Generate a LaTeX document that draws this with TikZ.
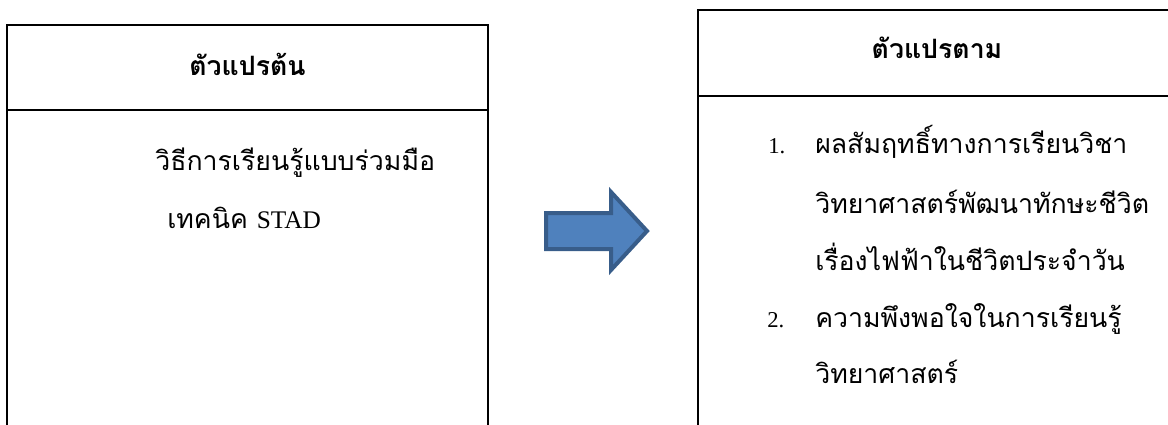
\documentclass[tikz,border=0pt]{standalone}
\usepackage{fontspec}
\setmainfont{Liberation Serif}
\newfontfamily\thaifont[Script=Thai]{Loma}
\usetikzlibrary{calc}

\definecolor{arrowfill}{HTML}{4F81BD}
\definecolor{arrowline}{HTML}{385D8A}

\begin{document}
\begin{tikzpicture}[x=0.75pt, y=-0.75pt,
            frame/.style={line width=1.2pt, black},
            headtext/.style={anchor=base, inner sep=0pt, font=\thaifont\bfseries\fontsize{20}{24}\selectfont},
            bodytext/.style={anchor=base west, inner sep=0pt, font=\thaifont\fontsize{20}{24}\selectfont},
            numtext/.style={anchor=base west, inner sep=0pt, font=\fontsize{17}{20}\selectfont},
            blockarrow/.style={fill=arrowfill, draw=arrowline, line width=3pt, line join=miter}
        ]
            \useasboundingbox (0,0) rectangle (1168,425);

            % left box: independent variable
            \coordinate (ivTL) at (7,25);
            \coordinate (ivTR) at (488,25);
            \draw[frame] (7,425) -- (ivTL) -- (ivTR) -- (488,425);
            \draw[frame] (7,110) -- (488,110);

            \node[headtext] (ivhead) at (247.5,75) {ตัวแปรต้น};
            \node[bodytext] (ivline1) at (155,170) {วิธีการเรียนรู้แบบร่วมมือ};
            \node[bodytext] (ivline2) at (167,228) {เทคนิค {\rmfamily\fontsize{19}{22}\selectfont STAD}};

            % right box: dependent variable
            \coordinate (dvTL) at (698,10);
            \coordinate (dvTR) at (1176,10);
            \draw[frame] (698,425) -- (dvTL) -- (dvTR) -- (1176,425);
            \draw[frame] (698,96) -- (1176,96);

            \node[headtext] (dvhead) at (937,58) {ตัวแปรตาม};
            \node[numtext] (dvnum1) at (768,153) {1.};
            \node[bodytext] (dvitem1a) at (815,153) {ผลสัมฤทธิ์ทางการเรียนวิชา};
            \node[bodytext] (dvitem1b) at (815,213) {วิทยาศาสตร์พัฒนาทักษะชีวิต};
            \node[bodytext] (dvitem1c) at (815,270) {เรื่องไฟฟ้าในชีวิตประจำวัน};
            \node[numtext] (dvnum2) at (767,327) {2.};
            \node[bodytext] (dvitem2a) at (815,327) {ความพึงพอใจในการเรียนรู้};
            \node[bodytext] (dvitem2b) at (815,383) {วิทยาศาสตร์};

            % block arrow between the boxes
            \draw[blockarrow] (546,213) -- (611,213) -- (611,192) -- (647,231)
                -- (611,270) -- (611,249) -- (546,249) -- cycle;

        \end{tikzpicture}
\end{document}
